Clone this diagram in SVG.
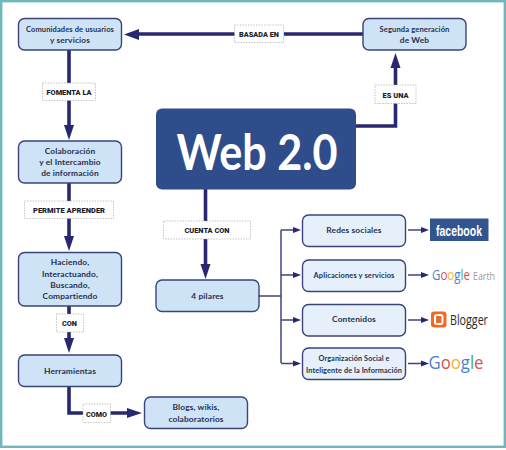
<svg xmlns="http://www.w3.org/2000/svg" width="506" height="450" viewBox="0 0 506 450">
<defs>
<style>
text{font-family:"Lato","Open Sans",sans-serif;text-anchor:middle}
.n{stroke:#3a4478;stroke-width:1.4}
.a{fill:#cfe3f7}
.b{fill:#e6f0fb}
.t{font-size:8.400px;font-weight:700;fill:#25304f;letter-spacing:.12px}
.l{font-family:"Roboto",sans-serif;font-size:7.600px;font-weight:900;fill:#1c1c2c}
.lb{fill:#fff;stroke:#aaa;stroke-width:.7;stroke-dasharray:1.5 1.2}
.c{fill:none;stroke:#27286f;stroke-width:3.6}
.d{fill:none;stroke:#3f4583;stroke-width:1.5}
.h{fill:#27286f}
</style>
</defs>
<rect x="1.2" y="1.2" width="503.6" height="445.6" fill="#fff" stroke="#6fb7bb" stroke-width="2.4"/>
<g id="connectors">
<path class="c" d="M236 34H138"/><path class="h" d="M124 34.500L139 29V40Z"/>
<path class="c" d="M284 34H363"/>
<path class="c" d="M69 50V128"/><path class="h" d="M69 140L64 125H74Z"/>
<path class="c" d="M69 183V240"/><path class="h" d="M69 251L64 236H74Z"/>
<path class="c" d="M69 306V345"/><path class="h" d="M69 353L64 338H74Z"/>
<path class="c" d="M69 386V413H130"/><path class="h" d="M142 413L127 408V418Z"/>
<path class="c" d="M205.500 189V268"/><path class="h" d="M205.500 279L200.500 264H210.500Z"/>
<path class="c" d="M356 126H395.500V66"/><path class="h" d="M395.500 53L390.500 68H400.500Z"/>
<path class="d" d="M259 296H281M281 230V363M281 230H296M281 275H296M281 320H296M281 363.500H296"/>
<path class="h" d="M301 230L293 227V233ZM301 275L293 272V278ZM301 320L293 317V323ZM301 363.500L293 360.500V366.500Z"/>
<path class="d" d="M408 230H424M408 275H424M408 320H424M408 363.500H424"/>
<path class="h" d="M429 230L421 227V233ZM429 275L421 272V278ZM429 320L421 317V323ZM429 363.500L421 360.500V366.500Z"/>
</g>
<g id="web20"><rect x="156" y="108.500" width="200" height="81" rx="6" fill="#2f4d8a"/><text x="257" y="169.500" style="font-size:49px;font-weight:700" fill="#fff" textLength="161" lengthAdjust="spacingAndGlyphs">Web 2.0</text></g>
<g id="comunidades"><rect class="n a" x="18.500" y="18.500" width="103" height="31.500" rx="6"/><text class="t" x="70" y="32" textLength="88" lengthAdjust="spacingAndGlyphs">Comunidades de usuarios</text><text class="t" x="70" y="43">y servicios</text></g>
<g id="segunda"><rect class="n a" x="363" y="18.500" width="103" height="31.500" rx="6"/><text class="t" x="414.500" y="32" textLength="70" lengthAdjust="spacingAndGlyphs">Segunda generación</text><text class="t" x="414.500" y="43">de Web</text></g>
<g id="colaboracion"><rect class="n a" x="18.500" y="141" width="103" height="42" rx="6"/><text class="t" x="70" y="154">Colaboración</text><text class="t" x="70" y="165">y el Intercambio</text><text class="t" x="70" y="176">de información</text></g>
<g id="haciendo"><rect class="n a" x="18.500" y="252.500" width="103" height="53.500" rx="6"/><text class="t" x="70" y="265">Haciendo,</text><text class="t" x="70" y="276.500">Interactuando,</text><text class="t" x="70" y="288">Buscando,</text><text class="t" x="70" y="299">Compartiendo</text></g>
<g id="herramientas"><rect class="n a" x="18.500" y="355" width="103" height="31.500" rx="6"/><text class="t" x="70" y="373.500">Herramientas</text></g>
<g id="blogs"><rect class="n a" x="144.500" y="397" width="103" height="31.500" rx="6"/><text class="t" x="196" y="410">Blogs, wikis,</text><text class="t" x="196" y="421.500">colaboratorios</text></g>
<g id="pilares"><rect class="n a" x="156" y="280" width="103" height="31.500" rx="6"/><text class="t" x="207.500" y="299">4 pilares</text></g>
<g id="redes"><rect class="n b" x="302.500" y="215" width="103" height="31.500" rx="6"/><text class="t" x="354" y="233">Redes sociales</text></g>
<g id="aplicaciones"><rect class="n b" x="302.500" y="260" width="103" height="31.500" rx="6"/><text class="t" x="354" y="277.500" textLength="81" lengthAdjust="spacingAndGlyphs">Aplicaciones y servicios</text></g>
<g id="contenidos"><rect class="n b" x="302.500" y="304.500" width="103" height="31.500" rx="6"/><text class="t" x="354" y="322">Contenidos</text></g>
<g id="organizacion"><rect class="n b" x="302.500" y="348" width="103" height="31.500" rx="6"/><text class="t" x="354" y="361" textLength="71" lengthAdjust="spacingAndGlyphs">Organización Social e</text><text class="t" x="354" y="372.500" textLength="96" lengthAdjust="spacingAndGlyphs">Inteligente de la Información</text></g>
<g id="lbl-fomenta"><rect class="lb" x="42.500" y="83" width="53" height="17.500"/><text class="l" x="69" y="94.500" textLength="45" lengthAdjust="spacingAndGlyphs">FOMENTA LA</text></g>
<g id="lbl-basada"><rect class="lb" x="234.500" y="25" width="49" height="17.500"/><text class="l" x="259" y="37" textLength="40" lengthAdjust="spacingAndGlyphs">BASADA EN</text></g>
<g id="lbl-esuna"><rect class="lb" x="375" y="85" width="41" height="18.500"/><text class="l" x="395.500" y="97.500" textLength="26" lengthAdjust="spacingAndGlyphs">ES UNA</text></g>
<g id="lbl-permite"><rect class="lb" x="24.500" y="201" width="89" height="17.500"/><text class="l" x="69" y="213" textLength="72" lengthAdjust="spacingAndGlyphs">PERMITE APRENDER</text></g>
<g id="lbl-cuenta"><rect class="lb" x="163.500" y="221" width="87" height="18"/><text class="l" x="207" y="233" textLength="45" lengthAdjust="spacingAndGlyphs">CUENTA CON</text></g>
<g id="lbl-con"><rect class="lb" x="56.500" y="314" width="27" height="18"/><text class="l" x="69.500" y="326" textLength="15" lengthAdjust="spacingAndGlyphs">CON</text></g>
<g id="lbl-como"><rect class="lb" x="83" y="404" width="27.500" height="18.500"/><text class="l" x="96.500" y="416.500" textLength="21" lengthAdjust="spacingAndGlyphs">COMO</text></g>
<g id="logo-facebook"><rect x="430" y="218.500" width="58.500" height="22.500" fill="#33558f"/><text x="459" y="235.500" style="font-family:'Liberation Sans',sans-serif;font-size:14.500px;font-weight:700" fill="#fff" textLength="46" lengthAdjust="spacingAndGlyphs">facebook</text></g>
<g id="logo-earth"><text x="451" y="280" style="font-family:'Open Sans',sans-serif;font-size:14px" textLength="38" lengthAdjust="spacingAndGlyphs"><tspan fill="#4a7fd0">G</tspan><tspan fill="#d9534a">o</tspan><tspan fill="#e8b83a">o</tspan><tspan fill="#4a7fd0">g</tspan><tspan fill="#4fa860">l</tspan><tspan fill="#d9534a">e</tspan></text><text x="484" y="280" style="font-family:'Open Sans',sans-serif;font-size:10.500px" fill="#9a9a9a" textLength="22" lengthAdjust="spacingAndGlyphs">Earth</text></g>
<g id="logo-blogger"><rect x="431" y="311.500" width="15.500" height="16" rx="3" fill="#ee6a26"/><rect x="435" y="315" width="7.500" height="9" rx="2" fill="none" stroke="#fff" stroke-width="2"/><text x="469" y="325" style="font-family:'Open Sans',sans-serif;font-size:14.500px" fill="#2a2a2a" textLength="38" lengthAdjust="spacingAndGlyphs">Blogger</text></g>
<g id="logo-google"><text x="456" y="369" style="font-family:'Open Sans',sans-serif;font-size:19px" textLength="55" lengthAdjust="spacingAndGlyphs"><tspan fill="#4a7fd0">G</tspan><tspan fill="#d9534a">o</tspan><tspan fill="#e8b83a">o</tspan><tspan fill="#4a7fd0">g</tspan><tspan fill="#4fa860">l</tspan><tspan fill="#d9534a">e</tspan></text></g>
</svg>
